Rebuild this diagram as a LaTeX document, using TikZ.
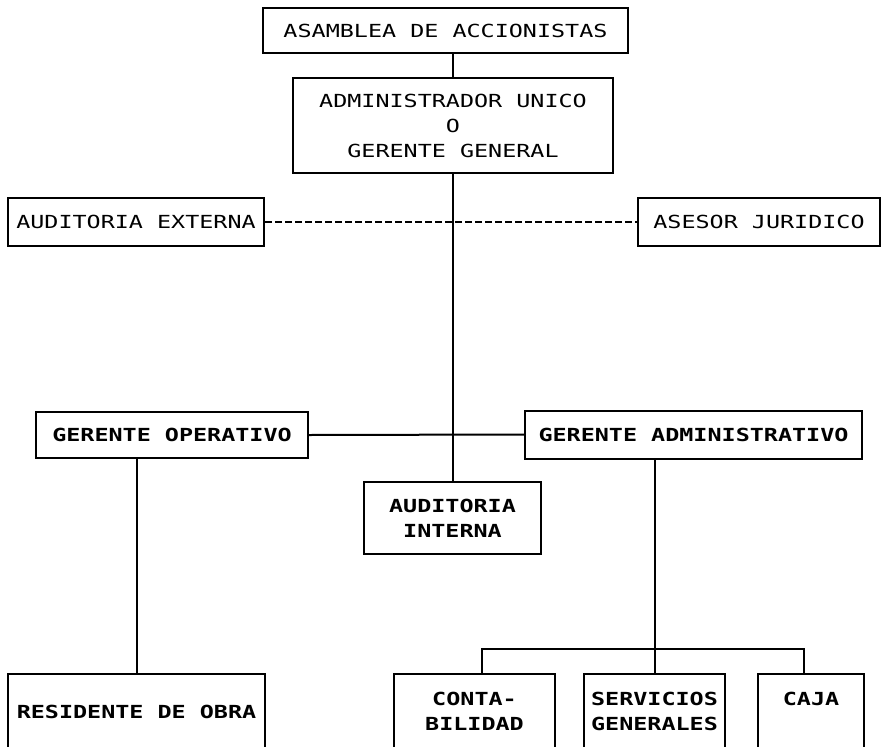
\documentclass[tikz,border=0pt]{standalone}
\usepackage{fontspec}
\setmonofont[FakeStretch=1.3]{DejaVu Sans Mono}
\usetikzlibrary{positioning}

\tikzset{
  puesto/.style={rectangle, draw, line width=2pt, inner sep=0pt, align=center,
    font=\ttfamily\fontsize{18}{25}\selectfont},
  fuerte/.style={font=\ttfamily\bfseries\fontsize{18}{25}\selectfont},
  linea/.style={line width=2pt},
}

\begin{document}
\begin{tikzpicture}[x=1pt,y=-1pt]
\useasboundingbox (0,0) rectangle (881,747);
\clip (0,0) rectangle (881,747);
\node[puesto,minimum width=365pt,minimum height=45pt] (asamblea) at (445.5,30.5) {ASAMBLEA DE ACCIONISTAS};
\node[puesto,minimum width=320pt,minimum height=95pt] (admin) at (453,125.5) {ADMINISTRADOR UNICO\\O\\GERENTE GENERAL};
\draw[linea] (asamblea.south -| admin.north) -- (admin.north);
\node[puesto,minimum width=256pt,minimum height=48pt] (audext) at (136,222) {AUDITORIA EXTERNA};
\node[puesto,minimum width=242pt,minimum height=48pt] (asesor) at (759,222) {ASESOR JURIDICO};
\draw[line width=1.5pt,dash pattern=on 7pt off 3pt] (audext.east) -- (asesor.west);
\node[puesto,fuerte,minimum width=272pt,minimum height=46pt] (gop) at (172,435) {GERENTE OPERATIVO};
\node[puesto,fuerte,minimum width=337pt,minimum height=48pt] (gadm) at (693.5,434.5) {GERENTE ADMINISTRATIVO};
\draw[linea] (gop.east) -- (gadm.west);
\node[puesto,fuerte,minimum width=177pt,minimum height=72pt] (audint) at (452.5,518) {AUDITORIA\\INTERNA};
\draw[linea] (admin.south) -- (admin.south |- audint.north);
\node[puesto,fuerte,minimum width=257pt,minimum height=76pt] (residente) at (136.5,712) {RESIDENTE DE OBRA};
\draw[linea] (residente.north) -- (residente.north |- gop.south);
\node[puesto,fuerte,minimum width=161pt,minimum height=75pt,anchor=north] (conta) at (474.5,673) {CONTA-\\BILIDAD};
\node[puesto,fuerte,minimum width=141pt,minimum height=75pt,right=27pt of conta] (servicios) {SERVICIOS\\GENERALES};
\node[puesto,fuerte,minimum width=106pt,minimum height=75pt,right=31pt of servicios] (caja) {CAJA\\\phantom{X}};
\draw[linea] (servicios.north) -- (servicios.north |- gadm.south);
\draw[linea] ([xshift=7.5pt]conta.north) -- ++(0,-24) -| ([xshift=-7pt]caja.north);
\end{tikzpicture}
\end{document}
